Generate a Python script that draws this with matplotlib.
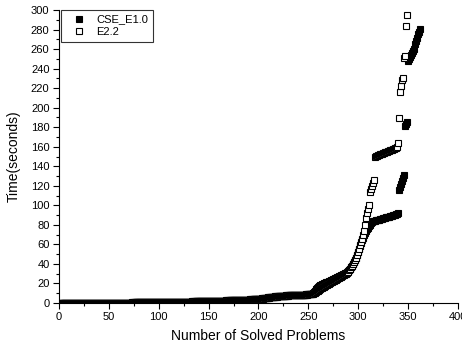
import numpy as np
import matplotlib
matplotlib.use("Agg")
import matplotlib.pyplot as plt

# solving time (s) of each solved problem, sorted ascending
cse_times = [
    0.0, 0.0, 0.0, 0.0, 0.0, 0.0, 0.0, 0.0, 0.0, 0.0,
    0.0, 0.0, 0.0, 0.1, 0.1, 0.1, 0.1, 0.1, 0.1, 0.1,
    0.1, 0.1, 0.1, 0.1, 0.1, 0.1, 0.1, 0.1, 0.1, 0.2,
    0.2, 0.2, 0.2, 0.2, 0.2, 0.2, 0.2, 0.2, 0.2, 0.2,
    0.2, 0.2, 0.3, 0.3, 0.3, 0.3, 0.3, 0.3, 0.3, 0.3,
    0.3, 0.3, 0.3, 0.4, 0.4, 0.4, 0.4, 0.4, 0.4, 0.4,
    0.4, 0.4, 0.5, 0.5, 0.5, 0.5, 0.5, 0.5, 0.5, 0.5,
    0.5, 0.5, 0.6, 0.6, 0.6, 0.6, 0.6, 0.6, 0.6, 0.6,
    0.6, 0.7, 0.7, 0.7, 0.7, 0.7, 0.7, 0.8, 0.8, 0.8,
    0.8, 0.8, 0.8, 0.9, 0.9, 0.9, 0.9, 0.9, 1.0, 1.0,
    1.0, 1.0, 1.0, 1.0, 1.1, 1.1, 1.1, 1.1, 1.1, 1.2,
    1.2, 1.2, 1.2, 1.2, 1.3, 1.3, 1.3, 1.3, 1.3, 1.3,
    1.4, 1.4, 1.4, 1.4, 1.4, 1.4, 1.5, 1.5, 1.5, 1.5,
    1.5, 1.5, 1.6, 1.6, 1.6, 1.6, 1.6, 1.7, 1.7, 1.7,
    1.7, 1.8, 1.8, 1.8, 1.8, 1.9, 1.9, 1.9, 2.0, 2.0,
    2.0, 2.1, 2.1, 2.1, 2.2, 2.2, 2.2, 2.3, 2.3, 2.3,
    2.4, 2.4, 2.4, 2.5, 2.5, 2.5, 2.6, 2.6, 2.7, 2.7,
    2.7, 2.8, 2.8, 2.9, 2.9, 2.9, 3.0, 3.0, 3.1, 3.1,
    3.1, 3.2, 3.2, 3.3, 3.3, 3.4, 3.4, 3.4, 3.5, 3.5,
    3.6, 3.6, 3.7, 3.7, 3.8, 3.8, 3.9, 3.9, 4.0, 4.0,
    4.2, 4.4, 4.6, 4.8, 5.0, 5.2, 5.3, 5.5, 5.6, 5.8,
    5.9, 6.1, 6.2, 6.3, 6.5, 6.6, 6.7, 6.8, 6.9, 7.0,
    7.1, 7.2, 7.3, 7.4, 7.5, 7.6, 7.6, 7.7, 7.8, 7.8,
    7.9, 8.0, 8.0, 8.1, 8.1, 8.2, 8.2, 8.3, 8.3, 8.4,
    8.4, 8.5, 8.5, 8.6, 8.6, 8.7, 8.7, 8.8, 8.9, 9.0,
    9.1, 9.2, 9.4, 9.6, 9.9,
    11.0, 12.5, 14.0, 15.5, 16.5, 17.5, 18.0, 18.5, 19.0, 19.5,
    20.0, 20.5, 21.0, 21.5, 22.0, 22.5, 23.0, 23.5, 24.0, 24.5,
    25.0, 25.5, 26.0, 26.5, 27.0, 27.5, 28.0, 28.5, 29.0, 29.5,
    30.0, 30.5, 31.0, 31.5, 32.5, 33.5, 35.0, 36.5, 38.0, 40.0,
    42.0, 44.0, 46.5, 49.0, 52.0, 55.0, 58.0, 61.0, 64.0, 67.0,
    70.0, 72.0, 74.0, 75.5, 77.0, 78.5, 80.0, 82.0, 83.0, 83.5,
    84.0, 84.3, 84.6, 84.9, 85.2, 85.5, 85.8, 86.1, 86.4, 86.7,
    87.0, 87.3, 87.6, 87.9, 88.2, 88.5, 88.8, 89.1, 89.4, 89.7,
    90.0, 90.4, 90.8, 91.3, 92.0,
    116.0, 119.0, 122.0, 125.0, 128.0, 131.0,
    181.0, 183.0, 185.0,
    248.0, 250.0, 252.0, 254.0, 256.0, 258.0, 260.0,
    265.0, 268.0, 271.0, 275.0, 278.0, 281.0,
]

e22_times = [
    0.0, 0.0, 0.0, 0.0, 0.0, 0.0, 0.0, 0.0, 0.0, 0.0,
    0.0, 0.0, 0.0, 0.0, 0.0, 0.1, 0.1, 0.1, 0.1, 0.1,
    0.1, 0.1, 0.1, 0.1, 0.1, 0.1, 0.1, 0.1, 0.1, 0.1,
    0.1, 0.2, 0.2, 0.2, 0.2, 0.2, 0.2, 0.2, 0.2, 0.2,
    0.2, 0.2, 0.2, 0.2, 0.3, 0.3, 0.3, 0.3, 0.3, 0.3,
    0.3, 0.3, 0.3, 0.3, 0.3, 0.4, 0.4, 0.4, 0.4, 0.4,
    0.4, 0.4, 0.4, 0.4, 0.5, 0.5, 0.5, 0.5, 0.5, 0.5,
    0.5, 0.5, 0.5, 0.5, 0.5, 0.6, 0.6, 0.6, 0.6, 0.6,
    0.6, 0.6, 0.6, 0.7, 0.7, 0.7, 0.7, 0.7, 0.7, 0.7,
    0.8, 0.8, 0.8, 0.8, 0.8, 0.8, 0.9, 0.9, 0.9, 0.9,
    0.9, 0.9, 1.0, 1.0, 1.0, 1.0, 1.0, 1.1, 1.1, 1.1,
    1.1, 1.1, 1.1, 1.2, 1.2, 1.2, 1.2, 1.2, 1.2, 1.3,
    1.3, 1.3, 1.3, 1.3, 1.3, 1.4, 1.4, 1.4, 1.4, 1.4,
    1.4, 1.5, 1.5, 1.5, 1.5, 1.5, 1.6, 1.6, 1.6, 1.6,
    1.6, 1.7, 1.7, 1.7, 1.7, 1.8, 1.8, 1.8, 1.8, 1.9,
    1.9, 1.9, 2.0, 2.0, 2.0, 2.1, 2.1, 2.1, 2.2, 2.2,
    2.2, 2.3, 2.3, 2.3, 2.4, 2.4, 2.4, 2.5, 2.5, 2.5,
    2.6, 2.6, 2.6, 2.7, 2.7, 2.8, 2.8, 2.8, 2.9, 2.9,
    3.0, 3.0, 3.0, 3.1, 3.1, 3.2, 3.2, 3.2, 3.3, 3.3,
    3.4, 3.4, 3.5, 3.5, 3.5, 3.6, 3.6, 3.7, 3.7, 3.8,
    3.9, 4.0, 4.2, 4.4, 4.6, 4.7, 4.9, 5.1, 5.2, 5.4,
    5.5, 5.7, 5.8, 6.0, 6.1, 6.2, 6.4, 6.5, 6.6, 6.7,
    6.8, 6.9, 7.0, 7.1, 7.2, 7.3, 7.4, 7.5, 7.5, 7.6,
    7.7, 7.7, 7.8, 7.9, 7.9, 8.0, 8.0, 8.1, 8.1, 8.2,
    8.2, 8.3, 8.3, 8.4, 8.4, 8.5, 8.5, 8.6, 8.7, 8.8,
    8.9, 9.0, 9.2, 9.4, 9.6,
    10.0, 10.6, 11.2, 12.0, 12.8, 13.5, 14.2, 15.0, 15.6, 16.2,
    16.8, 17.4, 18.0, 18.6, 19.2, 19.8, 20.4, 21.0, 21.6, 22.2,
    22.8, 23.4, 24.0, 24.6, 25.2, 25.8, 26.4, 27.0, 27.6, 28.2,
    28.8, 29.4, 30.0, 31.0, 32.0, 33.5, 35.0, 36.5, 38.0, 40.0,
    42.0, 44.0, 46.0, 49.0, 52.0, 55.5, 59.0, 62.5, 66.0, 70.0,
    74.0, 80.0, 87.0, 92.0, 96.0, 100.0, 114.0, 117.0, 120.0, 123.0,
    126.0,
    150.0, 150.5, 151.0, 151.4, 151.8, 152.2, 152.6, 153.0, 153.4, 153.8,
    154.2, 154.6, 155.0, 155.4, 155.8, 156.2, 156.6, 157.0, 157.5, 158.0,
    158.5, 159.0, 160.0,
    164.0, 189.0, 216.0, 222.0, 228.0, 230.0, 251.0, 253.0, 284.0, 295.0,
]

cse_x = np.arange(1, len(cse_times) + 1)
e22_x = np.arange(1, len(e22_times) + 1)

plt.rcParams['font.family'] = ['Liberation Sans', 'DejaVu Sans']

fig = plt.figure(figsize=(4.62, 3.49), dpi=100)
ax = fig.add_axes([0.1277, 0.1318, 0.8636, 0.8395])

ax.plot(cse_x, cse_times, ls='none', marker='s', ms=4.8, mew=0.8,
        mfc='black', mec='black', label='CSE_E1.0')
ax.plot(e22_x, e22_times, ls='none', marker='s', ms=4.8, mew=0.8,
        mfc='white', mec='black', label='E2.2')

ax.set_xlim(0, 400)
ax.set_ylim(0, 300)
ax.set_xticks(np.arange(0, 401, 50))
ax.set_yticks(np.arange(0, 301, 20))
ax.set_xticks(np.arange(0, 401, 25), minor=True)
ax.set_yticks(np.arange(0, 301, 10), minor=True)
ax.spines['top'].set_visible(False)
ax.spines['right'].set_visible(False)
ax.tick_params(which='major', direction='out', length=4.3, width=0.8,
               labelsize=8, pad=2.5)
ax.tick_params(which='minor', direction='out', length=2.2, width=0.8)

ax.set_xlabel('Number of Solved Problems', fontsize=10)
ax.set_ylabel('Time(seconds)', fontsize=10)
ax.xaxis.set_label_coords(0.5, -0.09)
ax.yaxis.set_label_coords(-0.097, 0.5)

leg = ax.legend(loc='upper left', bbox_to_anchor=(0.005, 1.0), fontsize=8,
                frameon=True, fancybox=False, edgecolor='black',
                borderaxespad=0, handletextpad=0.3, handlelength=2.5,
                borderpad=0.4, labelspacing=0.25)
leg.get_frame().set_linewidth(0.8)

fig.savefig('out.png', dpi=100)
